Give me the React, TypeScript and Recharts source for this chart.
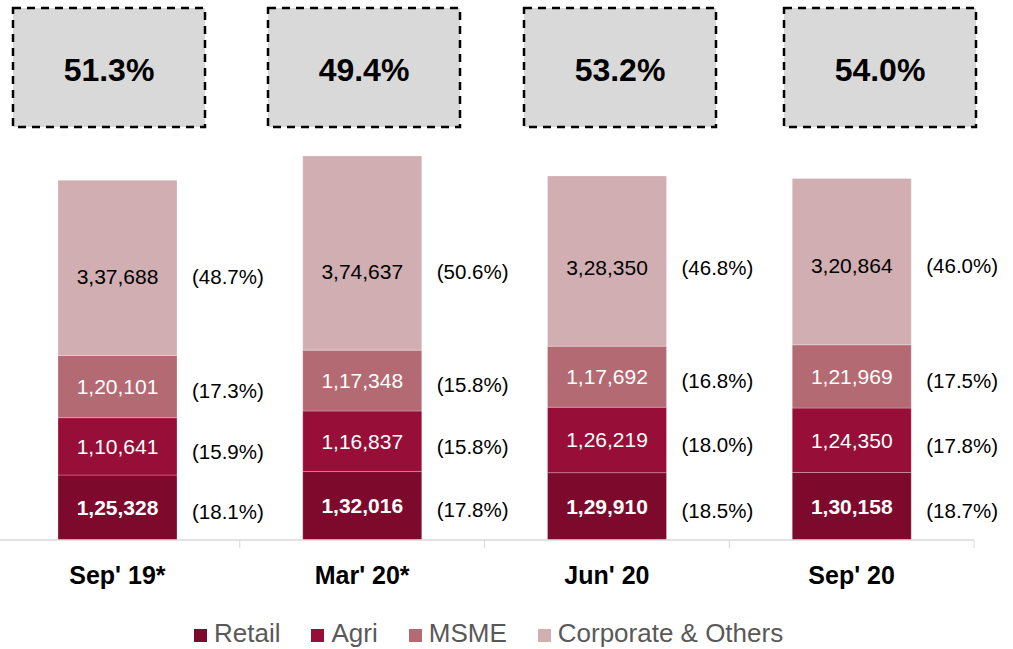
import React from "react";
import { BarChart, Bar, XAxis, YAxis, LabelList } from "recharts";

// ---------- data ----------
const categories = ["Sep' 19*", "Mar' 20*", "Jun' 20", "Sep' 20"];
const retail = [125328, 132016, 129910, 130158];
const agri = [110641, 116837, 126219, 124350];
const msme = [120101, 117348, 117692, 121969];
const corporate = [337688, 374637, 328350, 320864];
const retailPct = [18.1, 17.8, 18.5, 18.7];
const agriPct = [15.9, 15.8, 18.0, 17.8];
const msmePct = [17.3, 15.8, 16.8, 17.5];
const corporatePct = [48.7, 50.6, 46.8, 46.0];
const boxValues = [51.3, 49.4, 53.2, 54.0];
const legendNames = ["Retail", "Agri", "MSME", "Corporate & Others"];

// ---------- styles / layout ----------
const FONT = "'Liberation Sans', Arial, Helvetica, sans-serif";
const COLORS = ["#7D0A2C", "#970E38", "#B36A73", "#D0AEB1"];
const W = 1013;
const H = 649;
const MARGIN = { top: 146, right: 39, bottom: 79, left: -5 };
const HALF_BAND = (W - MARGIN.left - MARGIN.right) / categories.length / 2;
const BOX_LEFT = [13, 268, 524, 784];
const BOX_W = 192;
const BOX_TOP = 8;
const BOX_H = 119;

const data = categories.map((c, i) => ({
  category: c,
  retail: retail[i],
  agri: agri[i],
  msme: msme[i],
  corporate: corporate[i],
}));

function fmtIN(n: number): string {
  const s = String(Math.round(n));
  if (s.length <= 3) return s;
  const last3 = s.slice(-3);
  let rest = s.slice(0, -3);
  const parts: string[] = [];
  while (rest.length > 2) {
    parts.unshift(rest.slice(-2));
    rest = rest.slice(0, -2);
  }
  if (rest) parts.unshift(rest);
  return parts.join(",") + "," + last3;
}

const makeLabel =
  (pcts: number[], color: string, weight: string, pctDy: number, fromBottom?: number) =>
  (props: any) => {
    const x = Number(props.x);
    const y = Number(props.y);
    const width = Number(props.width);
    const height = Number(props.height);
    const { value, index } = props;
    const cx = x + width / 2;
    const cy = fromBottom ? y + height - fromBottom : y + height / 2;
    return (
      <g>
        <text
          x={cx}
          y={cy}
          textAnchor="middle"
          dominantBaseline="central"
          fill={color}
          fontWeight={weight}
          fontSize={21}
          fontFamily={FONT}
        >
          {fmtIN(Number(value))}
        </text>
        <text
          x={x + width + 15}
          y={cy + pctDy}
          textAnchor="start"
          dominantBaseline="central"
          fill="#000"
          fontSize={20.5}
          fontFamily={FONT}
        >
          {`(${pcts[index].toFixed(1)}%)`}
        </text>
      </g>
    );
  };

const CategoryTick = (props: any) => {
  const { x, y, payload } = props;
  return (
    <g>
      <line x1={x + HALF_BAND} y1={y} x2={x + HALF_BAND} y2={y + 8} stroke="#D9D9D9" strokeWidth={1} />
      <text
        x={x}
        y={y + 35}
        textAnchor="middle"
        dominantBaseline="central"
        fontWeight="bold"
        fontSize={25}
        fontFamily={FONT}
        fill="#000"
      >
        {payload.value}
      </text>
    </g>
  );
};

export default function App() {
  const sep = "rgba(255,255,255,0.25)";
  return (
    <div style={{ position: "absolute", left: 0, top: 0, width: W, height: H, background: "#fff", overflow: "hidden" }}>
      <BarChart width={W} height={H} data={data} margin={MARGIN} barCategoryGap={0}>
        <YAxis hide domain={[0, 760000]} />
        <XAxis
          dataKey="category"
          axisLine={{ stroke: "#D9D9D9", strokeWidth: 1.5 }}
          tickLine={false}
          tickSize={0}
          tickMargin={0}
          height={30}
          interval={0}
          tick={<CategoryTick />}
        />
        <Bar dataKey="retail" stackId="a" fill={COLORS[0]} barSize={119} stroke={sep} strokeWidth={1} isAnimationActive={false}>
          <LabelList dataKey="retail" content={makeLabel(retailPct, "#fff", "bold", 4)} />
        </Bar>
        <Bar dataKey="agri" stackId="a" fill={COLORS[1]} barSize={119} stroke={sep} strokeWidth={1} isAnimationActive={false}>
          <LabelList dataKey="agri" content={makeLabel(agriPct, "#fff", "normal", 5)} />
        </Bar>
        <Bar dataKey="msme" stackId="a" fill={COLORS[2]} barSize={119} stroke={sep} strokeWidth={1} isAnimationActive={false}>
          <LabelList dataKey="msme" content={makeLabel(msmePct, "#fff", "normal", 4)} />
        </Bar>
        <Bar dataKey="corporate" stackId="a" fill={COLORS[3]} barSize={119} stroke={sep} strokeWidth={1} isAnimationActive={false}>
          <LabelList dataKey="corporate" content={makeLabel(corporatePct, "#000", "normal", 0, 79)} />
        </Bar>
      </BarChart>

      <svg width={W} height={140} style={{ position: "absolute", left: 0, top: 0 }}>
        {boxValues.map((v, i) => (
          <g key={i}>
            <rect
              x={BOX_LEFT[i]}
              y={BOX_TOP}
              width={BOX_W}
              height={BOX_H}
              fill="#D9D9D9"
              stroke="#000"
              strokeWidth={2.5}
              strokeDasharray="8 6"
            />
            <text
              x={BOX_LEFT[i] + BOX_W / 2}
              y={BOX_TOP + BOX_H / 2 + 2}
              textAnchor="middle"
              dominantBaseline="central"
              fontWeight="bold"
              fontSize={32}
              fontFamily={FONT}
              fill="#000"
            >
              {`${v.toFixed(1)}%`}
            </text>
          </g>
        ))}
      </svg>

      <div
        style={{
          position: "absolute",
          left: 194,
          top: 618,
          display: "flex",
          alignItems: "baseline",
          fontFamily: FONT,
          fontSize: 26,
          color: "#595959",
          whiteSpace: "nowrap",
          lineHeight: "30px",
        }}
      >
        {legendNames.map((name, i) => (
          <span key={name} style={{ marginRight: 31, display: "inline-flex", alignItems: "baseline" }}>
            <span
              style={{
                display: "inline-block",
                width: 13,
                height: 13,
                background: COLORS[i],
                marginRight: 7,
              }}
            />
            {name}
          </span>
        ))}
      </div>
    </div>
  );
}
